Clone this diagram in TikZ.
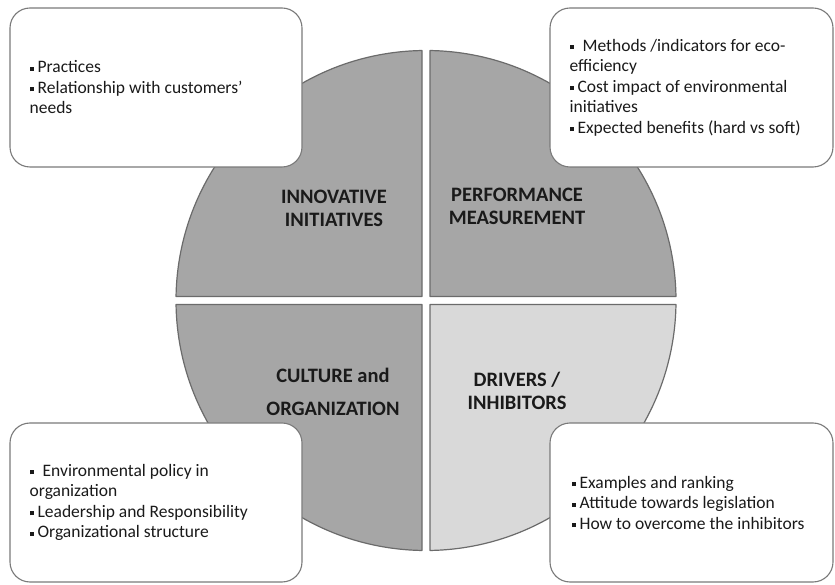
\documentclass[tikz,border=0pt]{standalone}
\usepackage{fontspec}
\setmainfont{Carlito}
\definecolor{quadfill}{HTML}{A6A6A6}
\definecolor{quadlight}{HTML}{D9D9D9}
\definecolor{quadedge}{HTML}{6B6B6B}
\definecolor{boxedge}{HTML}{7A7A7A}
\definecolor{ink}{HTML}{1A1A1A}
% small square bullet
\newcommand\sqbul{\rule[2pt]{4pt}{4pt}}

\begin{document}
\begin{tikzpicture}[x=1pt,y=1pt,
  quad/.style={fill=quadfill,draw=quadedge,line width=1.2pt,line join=round},
  infobox/.style={draw=boxedge,line width=1.1pt,fill=white,rounded corners=20pt,
    minimum width=#1,minimum height=159pt,inner sep=0pt},
  infotext/.style={anchor=west,align=left,inner sep=0pt,text=ink,
    font=\fontsize{17.5}{20.5}\selectfont},
  heading/.style={align=center,inner sep=0pt,text=ink,
    font=\fontsize{20.5}{23}\selectfont\bfseries}]

\useasboundingbox (0,0) rectangle (835,584);
\fill[white] (0,0) rectangle (835,584);

% four quarters of the disc, separated by narrow white strips
\begin{scope}[shift={(426,283.5)}]
  \draw[quad] (-4,4) -- (90.917:250) arc[start angle=90.917,end angle=179.083,radius=250] -- cycle;
  \draw[quad] (4,4) -- (89.083:250) arc[start angle=89.083,end angle=0.917,radius=250] -- cycle;
  \draw[quad] (-4,-4) -- (269.083:250) arc[start angle=269.083,end angle=180.917,radius=250] -- cycle;
  \draw[quad,fill=quadlight] (4,-4) -- (270.917:250) arc[start angle=270.917,end angle=359.083,radius=250] -- cycle;
\end{scope}

% quarter headings
\node[heading] (hinno) at (334,375.5) {INNOVATIVE\\INITIATIVES};
\node[heading] (hperf) at (517,377.5) {PERFORMANCE\\MEASUREMENT};
\node[heading,font=\fontsize{20.5}{33}\selectfont\bfseries] (hcult) at (333,192.5) {CULTURE and\\ORGANIZATION};
\node[heading] (hdriv) at (517,193) {DRIVERS /\\INHIBITORS};

% corner boxes
\node[infobox=292pt] (tl) at (156,496.5) {};
\node[infobox=283pt] (tr) at (691.5,496.5) {};
\node[infobox=292pt] (bl) at (156,81.5) {};
\node[infobox=283pt] (br) at (691.5,81.5) {};

\node[infotext] (tltext) at ([xshift=20pt]tl.west)
  {\sqbul\ Practices\\\sqbul\ Relationship with customers’\\needs};
\node[infotext] (trtext) at ([xshift=20pt]tr.west)
  {\sqbul\hspace{9pt}Methods /indicators for eco-\\efficiency\\\sqbul\ Cost impact of environmental\\initiatives\\\sqbul\ Expected benefits (hard vs soft)};
\node[infotext] (bltext) at ([xshift=20pt]bl.west)
  {\sqbul\hspace{9pt}Environmental policy in\\organization\\\sqbul\ Leadership and Responsibility\\\sqbul\ Organizational structure};
\node[infotext] (brtext) at ([xshift=22pt]br.west)
  {\sqbul\ Examples and ranking\\\sqbul\ Attitude towards legislation\\\sqbul\ How to overcome the inhibitors};
\end{tikzpicture}
\end{document}
